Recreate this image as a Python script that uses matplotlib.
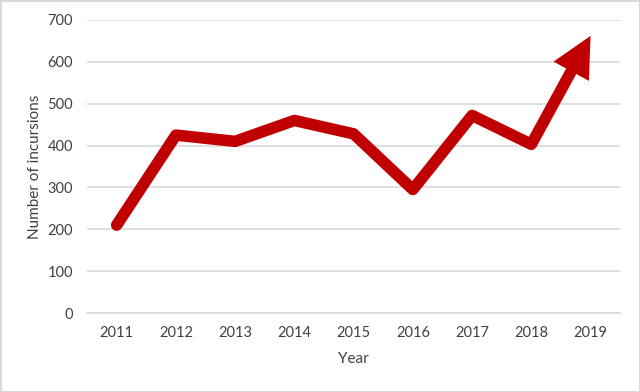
import matplotlib.pyplot as plt

years = ["2011", "2012", "2013", "2014", "2015", "2016", "2017", "2018", "2019"]
incursions = [210, 425, 410, 460, 428, 295, 472, 403, 662]

red = "#C00000"
grid = "#D9D9D9"

plt.rcParams["font.family"] = ["Lato", "DejaVu Sans"]

fig = plt.figure(figsize=(6.4, 3.92), dpi=100)
fig.patch.set_edgecolor(grid)
fig.patch.set_linewidth(2)
ax = fig.add_axes([0.136, 0.2015, 0.833, 0.7475])

x = list(range(len(years)))
ax.plot(x[:-1], incursions[:-1], color=red, lw=8.3, solid_joinstyle="round",
        solid_capstyle="round", zorder=3)
# last segment drawn as a filled arrow so the head stays sharp
ax.annotate("", xy=(x[-1], incursions[-1]), xytext=(x[-2], incursions[-2]),
            arrowprops=dict(arrowstyle="simple,head_length=1.45,head_width=1.45,tail_width=0.415",
                            mutation_scale=20, lw=0, fc=red, ec="none",
                            shrinkA=0, shrinkB=0),
            zorder=3)

ax.set_xlim(-0.5, len(years) - 0.5)
ax.set_ylim(0, 700)
ax.set_yticks(range(0, 701, 100))
ax.set_xticks(x)
ax.set_xticklabels(years)
ax.yaxis.grid(True, color=grid, lw=1.2)
ax.set_axisbelow(True)
for s in ax.spines.values():
    s.set_visible(False)
ax.spines["bottom"].set_visible(True)
ax.spines["bottom"].set_color(grid)
ax.spines["bottom"].set_linewidth(1.2)
ax.tick_params(length=0, labelsize=10.5, colors="#404040", pad=10)
ax.tick_params(axis="x", pad=9)
ax.set_xlabel("Year", fontsize=11, color="#404040", labelpad=9)
ax.set_ylabel("Number of incursions", fontsize=11, color="#404040", labelpad=4)

plt.savefig("out.png", dpi=100)
